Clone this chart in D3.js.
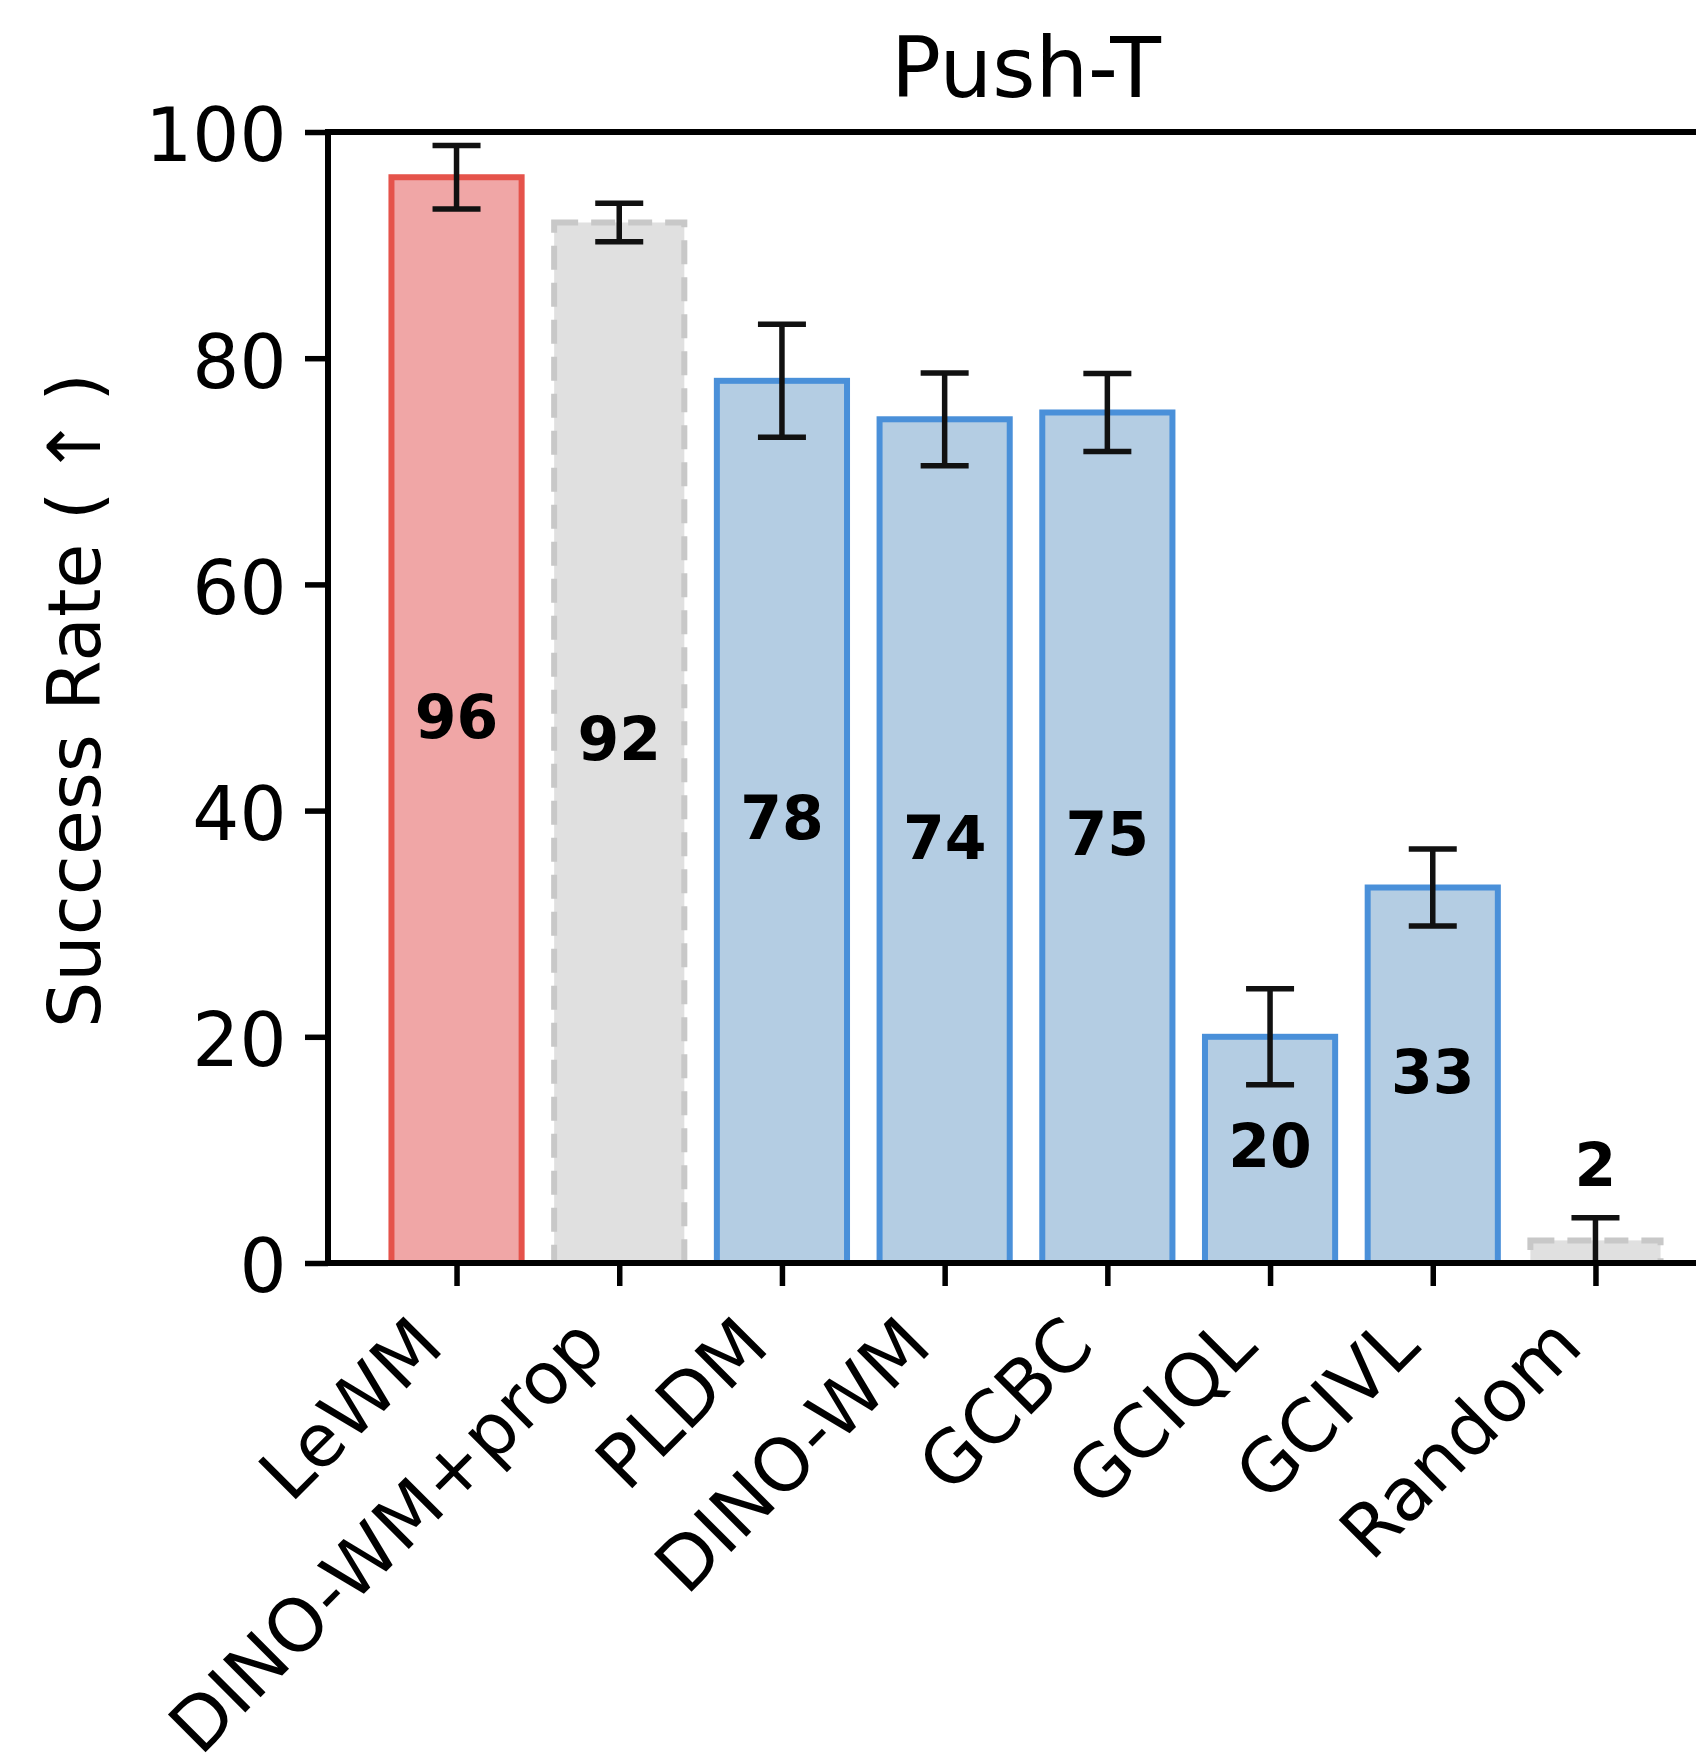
<!DOCTYPE html>
<html>
<head>
<meta charset="utf-8">
<script src="https://cdn.jsdelivr.net/npm/d3@7"></script>
<style>
  body { margin: 0; background: #fff; }
  svg { display: block; font-family: "DejaVu Sans", sans-serif; }
</style>
</head>
<body>
<svg id="chart" width="1696" height="1755"></svg>
<script>
// data
const methods = ["LeWM", "DINO-WM+prop", "PLDM", "DINO-WM", "GCBC", "GCIQL", "GCIVL", "Random"];
const success = [96, 92, 78, 74.6, 75.2, 20, 33.2, 2];
const errors = [2.8, 1.7, 5, 4.1, 3.45, 4.25, 3.4, 2];
const groups = ["ours", "ref", "base", "base", "base", "base", "base", "ref"];
const yTicks = [0, 20, 40, 60, 80, 100];

const styles = {
  ours: { fill: "#f0a6a6", stroke: "#e5534b", dash: null },
  base: { fill: "#b4cde3", stroke: "#4a90d9", dash: null },
  ref: { fill: "#e0e0e0", stroke: "#c8c8c8", dash: "24 13" }
};

const margin = { top: 132, left: 328, bottom: 1263, right: 1724 };

const svg = d3.select("#chart");

const x = d3
  .scaleLinear()
  .domain([-0.79, methods.length - 1 + 0.79])
  .range([margin.left, margin.right]);

const y = d3
  .scaleLinear()
  .domain([0, 100])
  .range([margin.bottom, margin.top]);

const barW = (x(1) - x(0)) * 0.8;

// bars
svg
  .append("g")
  .selectAll("rect")
  .data(success)
  .enter()
  .append("rect")
  .attr("x", (d, i) => x(i) - barW / 2)
  .attr("y", d => y(d))
  .attr("width", barW)
  .attr("height", d => y(0) - y(d))
  .attr("fill", (d, i) => styles[groups[i]].fill)
  .attr("stroke", (d, i) => styles[groups[i]].stroke)
  .attr("stroke-width", 6)
  .attr("stroke-dasharray", (d, i) => styles[groups[i]].dash);

// error bars
const capW = 24;
const err = svg.append("g").attr("stroke", "#111").attr("stroke-width", 5.5);
success.forEach((v, i) => {
  const lo = Math.max(0, v - errors[i]);
  const hi = v + errors[i];
  err.append("line").attr("x1", x(i)).attr("x2", x(i)).attr("y1", y(lo)).attr("y2", y(hi));
  err.append("line").attr("x1", x(i) - capW).attr("x2", x(i) + capW).attr("y1", y(hi)).attr("y2", y(hi));
  err.append("line").attr("x1", x(i) - capW).attr("x2", x(i) + capW).attr("y1", y(lo)).attr("y2", y(lo));
});

// value labels (small bars get theirs above the error bar)
svg
  .append("g")
  .selectAll("text")
  .data(success)
  .enter()
  .append("text")
  .attr("x", (d, i) => x(i))
  .attr("y", (d, i) => (d < 5 ? y(d + errors[i]) - 32 : y(d / 2) + 17.5))
  .attr("text-anchor", "middle")
  .attr("font-size", 60)
  .attr("font-weight", "bold")
  .attr("fill", "#000")
  .text(d => Math.floor(d));

// axes
const yAxis = svg
  .append("g")
  .attr("transform", `translate(${margin.left},0)`)
  .call(d3.axisLeft(y).tickValues(yTicks).tickSize(23).tickPadding(18.5));

const xAxis = svg
  .append("g")
  .attr("transform", `translate(0,${margin.bottom})`)
  .call(
    d3
      .axisBottom(x)
      .tickValues(d3.range(methods.length))
      .tickFormat(i => methods[i])
      .tickSize(23)
  );

[yAxis, xAxis].forEach(g => {
  g.select(".domain").remove();
  g.selectAll(".tick line").attr("stroke", "#000").attr("stroke-width", 5.5);
  g.selectAll(".tick text")
    .attr("fill", "#000")
    .attr("font-size", 74)
    .attr("font-family", "DejaVu Sans");
});

yAxis.selectAll(".tick text").attr("dy", "0.39em");

xAxis
  .selectAll(".tick text")
  .attr("font-size", 73)
  .attr("x", -11)
  .attr("y", 86)
  .attr("dy", null)
  .attr("text-anchor", "end")
  .attr("transform", "rotate(-45 -11 86)");

// spines
svg
  .append("rect")
  .attr("x", margin.left)
  .attr("y", margin.top)
  .attr("width", margin.right - margin.left)
  .attr("height", margin.bottom - margin.top)
  .attr("fill", "none")
  .attr("stroke", "#000")
  .attr("stroke-width", 6);

// title and y label
svg
  .append("text")
  .attr("x", (margin.left + margin.right) / 2)
  .attr("y", 97)
  .attr("text-anchor", "middle")
  .attr("font-size", 83)
  .attr("fill", "#000")
  .text("Push-T");

svg
  .append("text")
  .attr("transform", `translate(100,${(margin.top + margin.bottom) / 2 + 3}) rotate(-90)`)
  .attr("text-anchor", "middle")
  .attr("font-size", 73)
  .attr("fill", "#000")
  .text("Success Rate (\u2009\u2191\u2009)");
</script>
</body>
</html>
